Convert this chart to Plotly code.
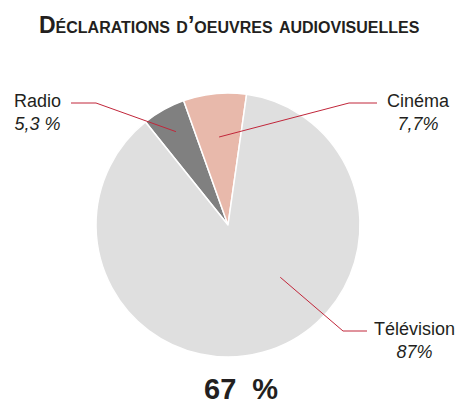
import math
import plotly.graph_objects as go

# ---- data ----
categories = ["Radio", "Cinéma", "Télévision"]
values = [5.3, 7.7, 87]
value_labels = ["5,3 %", "7,7%", "87%"]
total_label = "67 %"
title_text = "Déclarations d’oeuvres audiovisuelles"

# ---- style ----
W, H = 461, 405
colors = ["#808080", "#e8b9ab", "#dfdfdf"]
line_color = "#c1263a"
text_color = "#231f20"
font_family = "Liberation Sans, Arial, sans-serif"
rotation = -38.7
cx, cy, R = 228, 225, 132  # pie centre/radius in pixels

fig = go.Figure()
fig.add_trace(go.Pie(
    labels=categories, values=values, sort=False, direction="clockwise",
    rotation=rotation, marker=dict(colors=colors, line=dict(color="white", width=1.5)),
    textinfo="none", hoverinfo="label+value", showlegend=False,
    domain=dict(x=[(cx - R) / W, (cx + R) / W], y=[1 - (cy + R) / H, 1 - (cy - R) / H]),
))

def px(x, y):
    return x / W, 1 - y / H

# leader anchor: angle (deg from 12 o'clock, clockwise) & radius fraction
total = sum(values)
mids = []
acc = rotation
for v in values:
    a = v / total * 360
    mids.append(acc + a / 2)
    acc += a
anchor_angle = [mids[0], mids[1], 135]
anchor_r = [0.81, 0.67, 0.56]
elbows = [(96, 103), (349, 103), (343, 331)]
ends = [(71, 103), (377, 103), (367, 331)]
label_pos = [(37, 103), (418, 103), (414, 331)]

for i, cat in enumerate(categories):
    ang = math.radians(anchor_angle[i])
    ax = cx + anchor_r[i] * R * math.sin(ang)
    ay = cy - anchor_r[i] * R * math.cos(ang)
    pts = [(ax, ay), elbows[i], ends[i]]
    path = "M " + " L ".join(f"{px(x, y)[0]},{px(x, y)[1]}" for x, y in pts)
    fig.add_shape(type="path", path=path, xref="paper", yref="paper",
                  line=dict(color=line_color, width=1))
    lx, ly = label_pos[i]
    fig.add_annotation(x=px(lx, ly)[0], y=px(lx, ly)[1], xref="paper", yref="paper",
                       text=f"{cat}<br><i>{value_labels[i]}</i>", showarrow=False,
                       xanchor="center", yanchor="middle", align="center",
                       font=dict(size=18, color=text_color, family=font_family),
                       yshift=-9)

fig.add_annotation(x=px(229, 25)[0], y=px(229, 25)[1], xref="paper", yref="paper",
                   xanchor="center", yanchor="middle",
                   text=f"<b>{title_text}</b>", showarrow=False,
                   font=dict(size=23, color=text_color, family=font_family, variant="small-caps"))
fig.add_annotation(x=px(241, 389)[0], y=px(241, 389)[1], xref="paper", yref="paper",
                   xanchor="center", yanchor="middle",
                   text="<b>" + total_label.replace(" ", "&nbsp;&nbsp;") + "</b>", showarrow=False,
                   font=dict(size=29, color=text_color, family=font_family))

fig.update_layout(width=W, height=H, margin=dict(l=0, r=0, t=0, b=0),
                  paper_bgcolor="white", plot_bgcolor="white")
fig.write_html("out.html", config={"displayModeBar": False},
               post_script="document.body.style.margin='0';")
